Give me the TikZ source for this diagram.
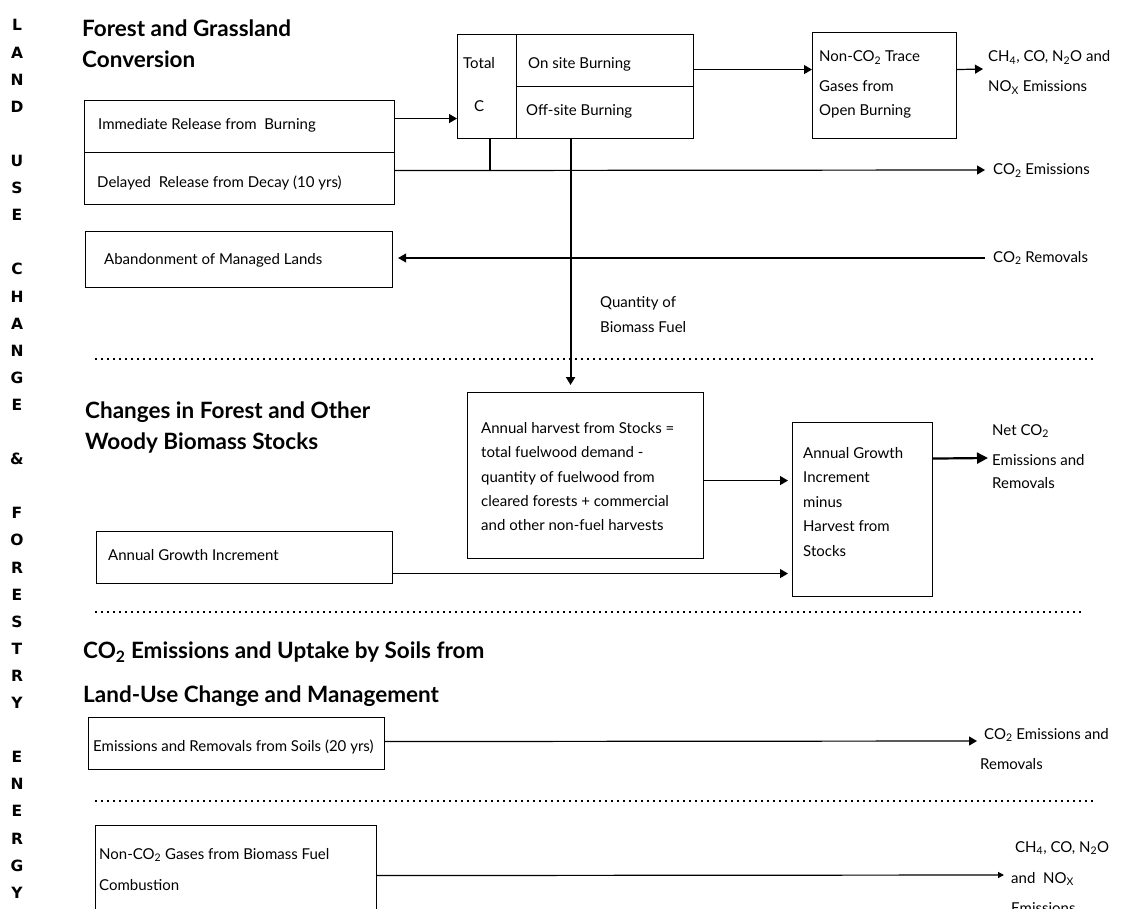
\documentclass[tikz,border=0pt]{standalone}
\usepackage{fontspec}
\setmainfont{Lato}
\newfontfamily\sidefont{DejaVu Sans}
\usetikzlibrary{arrows.meta}
\begin{document}
\begin{tikzpicture}[x=1pt,y=-1pt,
 box/.style={draw,line width=1.1pt,inner sep=0pt,anchor=north west},
 tx/.style={anchor=base west,inner sep=0pt,font=\fontsize{15}{17}\selectfont},
 hd/.style={anchor=base west,inner sep=0pt,font=\fontsize{22.5}{26}\selectfont\bfseries},
 sd/.style={anchor=base,inner sep=0pt,font=\sidefont\fontsize{15.5}{18}\selectfont\bfseries},
 ar/.style={line width=1.2pt,-{Triangle[length=8pt,width=9pt]}},
 arsmall/.style={line width=1.2pt,-{Triangle[length=6pt,width=6pt]}},
 arbig/.style={line width=2.2pt,-{Triangle[length=11pt,width=11pt]}},
 arv/.style={line width=2pt,-{Triangle[length=8pt,width=9pt]}},
 thickln/.style={line width=2pt},
 dots/.style={line width=1.6pt,dash pattern=on 1.6pt off 4.4pt},
]
\useasboundingbox (0,0) rectangle (1124,909);
\clip (0,0) rectangle (1124,909);

% side letters
\foreach \i/\c in {0/L,1/A,2/N,3/D,5/U,6/S,7/E,9/C,10/H,11/A,12/N,13/G,14/E,16/\&,18/F,19/O,20/R,21/E,22/S,23/T,24/R,25/Y,27/E,28/N,29/E,30/R,31/G,32/Y}
  \node[sd] (side\i) at (17,{31+27.1*\i}) {\c};

% headings
\node[hd] (h1a) at (82,37) {Forest and Grassland};
\node[hd] (h1b) at (82,68) {Conversion};
\node[hd] (h2a) at (85,418) {Changes in Forest and Other};
\node[hd] (h2b) at (85,449) {Woody Biomass Stocks};
\node[hd] (h3a) at (83,658) {CO\textsubscript{2} Emissions and Uptake by Soils from};
\node[hd] (h3b) at (83,702) {Land-Use Change and Management};

% forest and grassland conversion
\node[box,minimum width=310pt,minimum height=52pt] (imm) at (84,100) {};
\node[box,minimum width=310pt,minimum height=52pt] (del) at (84,152) {};
\node[tx] (immT) at (98,130) {Immediate Release from\ \ Burning};
\node[tx] (delT) at (97,188) {Delayed\ \ Release from Decay (10 yrs)};
\node[box,minimum width=307pt,minimum height=56pt] (aband) at (85,231) {};
\node[tx] (abandT) at (104,265) {Abandonment of Managed Lands};

\node[box,minimum width=59pt,minimum height=104pt] (tot) at (457,34) {};
\node[box,minimum width=177pt,minimum height=52pt] (on) at (516,34) {};
\node[box,minimum width=177pt,minimum height=52pt] (off) at (516,86) {};
\node[tx] (totT) at (463,69) {Total};
\node[tx] (totC) at (474,112) {C};
\node[tx] (onT) at (528,69) {On site Burning};
\node[tx] (offT) at (526,116) {Off-site Burning};

\node[box,minimum width=144pt,minimum height=106pt] (trace) at (812,32) {};
\node[tx] (trace1) at (819,62) {Non-CO\textsubscript{2} Trace};
\node[tx] (trace2) at (819,92) {Gases from};
\node[tx] (trace3) at (819,116) {Open Burning};

\node[tx] (ch1) at (988,62) {CH\textsubscript{4}, CO, N\textsubscript{2}O and};
\node[tx] (ch2) at (988,92) {NO\textsubscript{X} Emissions};
\node[tx] (co2e) at (993,175) {CO\textsubscript{2} Emissions};
\node[tx] (co2r) at (993,262) {CO\textsubscript{2} Removals};
\node[tx] (q1) at (600,308) {Quantity of};
\node[tx] (q2) at (600,332) {Biomass Fuel};

% woody biomass
\node[box,minimum width=236pt,minimum height=166pt] (harv) at (467,392) {};
\node[tx] (harv1) at (481,433) {Annual harvest from Stocks =};
\node[tx] (harv2) at (481,457) {total fuelwood demand -};
\node[tx] (harv3) at (481,482) {quantity of fuelwood from};
\node[tx] (harv4) at (481,506) {cleared forests + commercial};
\node[tx] (harv5) at (481,530) {and other non-fuel harvests};

\node[box,minimum width=140pt,minimum height=174pt] (grow) at (792,422) {};
\node[tx] (grow1) at (803,458) {Annual Growth};
\node[tx] (grow2) at (803,482) {Increment};
\node[tx] (grow3) at (803,507) {minus};
\node[tx] (grow4) at (803,531) {Harvest from};
\node[tx] (grow5) at (803,556) {Stocks};

\node[tx] (net1) at (992,435) {Net CO\textsubscript{2}};
\node[tx] (net2) at (992,465) {Emissions and};
\node[tx] (net3) at (992,488) {Removals};

\node[box,minimum width=296pt,minimum height=52pt] (aginc) at (96,531) {};
\node[tx] (agincT) at (108,560) {Annual Growth Increment};

% soils
\node[box,minimum width=296pt,minimum height=52pt] (soils) at (88,717) {};
\node[tx] (soilsT) at (93,751) {Emissions and Removals from Soils (20 yrs)};
\node[tx] (ser1) at (984,739) {CO\textsubscript{2} Emissions and};
\node[tx] (ser2) at (980,769) {Removals};

% energy
\node[box,minimum width=281pt,minimum height=100pt] (gases) at (95,825) {};
\node[tx] (gases1) at (99,859) {Non-CO\textsubscript{2} Gases from Biomass Fuel};
\node[tx] (gases2) at (99,890) {Combustion};
\node[tx] (en1) at (1015,852) {CH\textsubscript{4}, CO, N\textsubscript{2}O};
\node[tx] (en2) at (1011,883) {and\ \ NO\textsubscript{X}};
\node[tx] (en3) at (1011,913) {Emissions};

% dotted separators
\draw[dots] (95,359) -- (1095,359);
\draw[dots] (95,612) -- (1082,612);
\draw[dots] (95,801) -- (1094,801);

% connectors
\coordinate (a1) at ([yshift=8pt]imm.east);
\draw[ar] (a1) -- (tot.west |- a1);
\coordinate (a2) at ([yshift=8pt]del.east);
\coordinate (a2e) at (985,170);
\draw[ar] (a2) -- (a2e);
\coordinate (a3) at ([xshift=2.5pt]tot.south);
\draw[thickln] (a3) -- (a3 |- a2);
\coordinate (a4) at ([xshift=-34.5pt]off.south);
\draw[arv,shorten >=7pt] (a4) -- (a4 |- harv.north);
\coordinate (a5) at ([yshift=-9pt]on.east);
\draw[ar] (a5) -- (trace.west |- a5);
\coordinate (a6) at ([yshift=16pt]trace.east);
\coordinate (a6e) at (983,69);
\draw[ar] (a6) -- (a6e);
\coordinate (a7) at (985,258);
\draw[ar,shorten >=5pt] (a7) -- (aband.east |- a7);
\coordinate (a8) at ([yshift=-5pt]harv.east);
\draw[ar,shorten >=4pt] (a8) -- (grow.west |- a8);
\coordinate (a9) at ([yshift=-16pt]aginc.east);
\draw[ar,shorten >=4pt] (a9) -- (grow.west |- a9);
\coordinate (a10) at ([yshift=51pt]grow.east);
\coordinate (a10e) at (988,458);
\draw[arbig] (a10) -- (a10e);
\coordinate (a11) at ([yshift=2pt]soils.east);
\coordinate (a11e) at (977,741);
\draw[ar] (a11) -- (a11e);
\coordinate (a12e) at (1004,875);
\draw[arsmall] (gases.east) -- (a12e);
\end{tikzpicture}
\end{document}
